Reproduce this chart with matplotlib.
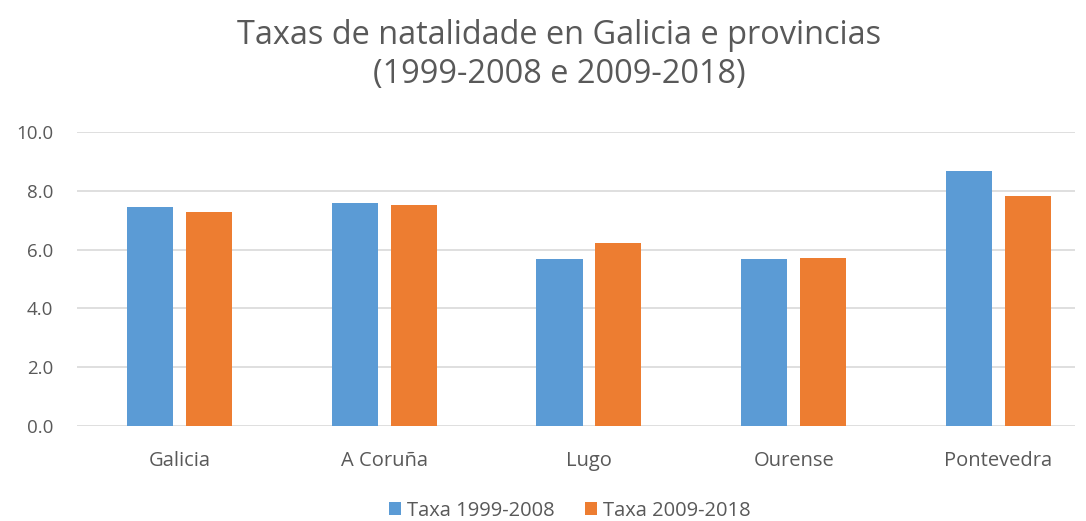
import matplotlib
matplotlib.use("Agg")
import matplotlib.pyplot as plt
import numpy as np

categories = ["Galicia", "A Coruña", "Lugo", "Ourense", "Pontevedra"]
taxa_1999_2008 = [7.46, 7.57, 5.67, 5.69, 8.66]
taxa_2009_2018 = [7.27, 7.53, 6.24, 5.70, 7.83]
series_labels = ["Taxa 1999-2008", "Taxa 2009-2018"]
yticks = [0, 2, 4, 6, 8, 10]

plt.rcParams['font.family'] = ['Open Sans', 'DejaVu Sans']
fig = plt.figure(figsize=(10.86, 5.21), dpi=100)
ax = fig.add_axes([0.0709, 0.1823, 0.9191, 0.5643])

x = np.arange(len(categories))
w = 0.225
off = 0.144
b1 = ax.bar(x - off, taxa_1999_2008, w, color="#5B9BD5", label=series_labels[0], zorder=3)
b2 = ax.bar(x + off, taxa_2009_2018, w, color="#ED7D31", label=series_labels[1], zorder=3)

ax.set_xlim(-0.5, 4.374)
ax.set_ylim(0, 10)
ax.set_yticks(yticks)
ax.set_yticklabels([f"{v:.1f}" for v in yticks])
ax.set_xticks(x)
ax.set_xticklabels(categories)
ax.tick_params(axis='both', length=0, colors="#595959")
ax.tick_params(axis='x', pad=18, labelsize=14.5)
ax.tick_params(axis='y', pad=17, labelsize=13.5)
ax.grid(axis='y', color="#D9D9D9", linewidth=1.2, zorder=0)
for s in ax.spines.values():
    s.set_visible(False)

fig.text(0.515, 0.894, "Taxas de natalidade en Galicia e provincias\n(1999-2008 e 2009-2018)",
         ha='center', va='center', fontsize=23.4, color="#595959", linespacing=1.25)

fig.legend(handles=[b1, b2], labels=series_labels, loc='center', bbox_to_anchor=(0.525, 0.02),
           ncol=2, frameon=False, fontsize=14.5, handlelength=0.6, handleheight=0.6,
           handletextpad=0.3, columnspacing=1.5, labelcolor="#595959")

fig.savefig("out.png", dpi=100)
